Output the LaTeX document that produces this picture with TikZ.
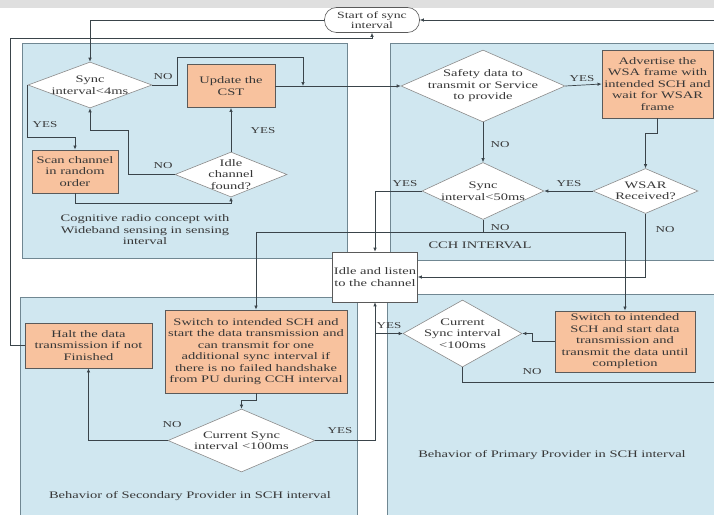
\documentclass[tikz,border=0pt]{standalone}
\usepackage{fontspec}
\setmainfont{Liberation Serif}[FakeStretch=1.45]
\usetikzlibrary{arrows.meta}
\usetikzlibrary{shapes}
\definecolor{panelblue}{RGB}{208,231,240}
\definecolor{panelline}{RGB}{112,135,146}
\definecolor{boxorange}{RGB}{248,194,158}
\definecolor{boxline}{RGB}{90,90,90}
\definecolor{linec}{RGB}{58,68,74}
\definecolor{txt}{RGB}{55,55,55}

\begin{document}
\begin{tikzpicture}[x=1pt,y=-1pt,font=\fontsize{10}{11.5}\selectfont]
\tikzstyle{panel}=[fill=panelblue,draw=panelline,line width=0.9pt]
\tikzstyle{proc}=[rectangle,draw=boxline,fill=boxorange,line width=0.9pt,align=center,inner sep=1pt,text=txt]
\tikzstyle{plain}=[rectangle,draw=boxline,fill=white,line width=0.6pt,align=center,inner sep=1pt,text=txt]
\tikzstyle{decide}=[diamond,draw=boxline!70,fill=white,line width=0.6pt,inner sep=0pt]
\tikzstyle{dtext}=[align=center,text=txt,inner sep=0pt]
\tikzstyle{startbox}=[rectangle,rounded corners=12pt,draw=boxline,fill=white,line width=0.6pt,align=center,inner sep=1pt,text=txt,font=\fontsize{9.5}{10.5}\selectfont]
\tikzstyle{arr}=[draw=linec,line width=0.7pt,-{Latex[length=4pt,width=3.5pt]}]
\tikzstyle{wire}=[draw=linec,line width=0.7pt]
\tikzstyle{lbl}=[font=\fontsize{9}{10}\selectfont,text=txt,inner sep=1pt]
\tikzstyle{ptext}=[align=center,text=txt]
\useasboundingbox (0,0) rectangle (714,514);
\fill[gray!25] (0,0) rectangle (714,8);
\draw[panel] (22,43) rectangle (347,258);
\draw[panel] (390,43) rectangle (718,260);
\draw[panel] (20,297) rectangle (357,518);
\draw[panel] (387,294) rectangle (718,518);
\node[ptext] (coglbl) at (145,230) {Cognitive radio concept with\\Wideband sensing in sensing\\interval};
\node[ptext] (cchlbl) at (480,245) {CCH INTERVAL};
\node[ptext] (seclbl) at (190,496) {Behavior of Secondary Provider in SCH interval};
\node[ptext] (prilbl) at (552,455) {Behavior of Primary Provider in SCH interval};
\node[startbox,minimum width=95pt,minimum height=25pt] (start) at (372,20) {Start of sync\\interval};
\node[decide,minimum width=124pt,minimum height=46pt,label={[dtext]center:Sync\\interval<4ms}] (sync4) at (90,85) {};
\node[proc,minimum width=88pt,minimum height=43pt] (cst) at (231,86) {Update the\\CST};
\node[decide,minimum width=112pt,minimum height=45pt,label={[dtext]center:Idle\\channel\\found?}] (found) at (231,174.5) {};
\node[proc,minimum width=86pt,minimum height=43pt] (scan) at (75,171.5) {Scan channel\\in random\\order};
\node[decide,minimum width=164pt,minimum height=72pt,label={[dtext]center:Safety data to\\transmit or Service\\to provide}] (safety) at (483,86) {};
\node[proc,minimum width=111pt,minimum height=68pt] (adv) at (657.5,84) {Advertise the\\WSA frame with\\intended SCH and\\wait for WSAR\\frame};
\node[decide,minimum width=105pt,minimum height=45pt,label={[dtext]center:WSAR\\Received?}] (wsar) at (645.5,191) {};
\node[decide,minimum width=122pt,minimum height=57pt,label={[dtext]center:Sync\\interval<50ms}] (sync50) at (483,191) {};
\node[plain,minimum width=85pt,minimum height=50pt] (idle) at (375,277) {Idle and listen\\to the channel};
\node[proc,minimum width=127pt,minimum height=45pt] (halt) at (88.5,345.5) {Halt the data\\transmission if not\\Finished};
\node[proc,minimum width=182pt,minimum height=83pt] (sswitch) at (256,351.5) {Switch to intended SCH and\\start the data transmission and\\can transmit for one\\additional sync interval if\\there is no failed handshake\\from PU during CCH interval};
\node[decide,minimum width=147pt,minimum height=63pt,label={[dtext]center:Current Sync\\interval <100ms}] (sdec) at (241.5,440.5) {};
\node[proc,minimum width=140pt,minimum height=61pt] (pswitch) at (625,341.5) {Switch to intended\\SCH and start data\\transmission and\\transmit the data until\\completion};
\node[decide,minimum width=119pt,minimum height=67pt,label={[dtext]center:Current\\Sync interval\\<100ms}] (pdec) at (462.5,333.5) {};
\coordinate (back) at (718,20);
\coordinate (pout) at (718,382);
\draw[arr] (start.west) -| (sync4.north);
\draw[arr] (sync4.west) -- ++(0,52) -| (scan.north);
\draw[arr] (scan.south) -- ++(0,10) -| (found.south);
\draw[arr] (found.north) -- (cst.south);
\draw[arr] (found.west) -| (128,130) -| (sync4.south);
\draw[arr] (sync4.east) -| (177,57) -| (303,86);
\draw[arr] (cst.east) -- (safety.west);
\draw[arr] (safety.east) -- (adv.west);
\draw[arr] (adv.south) -- ++(0,15) -| (wsar.north);
\draw[arr] (wsar.west) -- (sync50.east);
\draw[arr] (safety.south) -- (sync50.north);
\draw[arr] (sync50.west) -| (idle.north);
\draw[arr] (sync50.south) -- ++(0,13) -| (sswitch.north);
\draw[arr] (sync50.south) -- ++(0,13) -| (pswitch.north);
\draw[arr] (wsar.south) |- (idle.east);
\draw[arr] (sswitch.south) -- ++(0,7) -| (sdec.north);
\draw[arr] (sdec.west) -| (halt.south);
\draw[arr] (sdec.east) -| (idle.south);
\draw[arr] (idle.south |- pdec.west) -- (pdec.west);
\draw[arr] (pswitch.west) -- ++(-22,0) |- (pdec.east);
\draw[wire] (pdec.south) |- (pout);
\draw[arr] (back) -- (start.east);
\draw[arr] (halt.west) -| (10,38) -| (start.south);
\node[lbl] at (45,125) {YES};
\node[lbl] at (163,77) {NO};
\node[lbl] at (263,131) {YES};
\node[lbl] at (163,166) {NO};
\node[lbl] at (582,79) {YES};
\node[lbl] at (500,145) {NO};
\node[lbl] at (569,184) {YES};
\node[lbl] at (405,184) {YES};
\node[lbl] at (500,228) {NO};
\node[lbl] at (665,230) {NO};
\node[lbl] at (172,425) {NO};
\node[lbl] at (340,431) {YES};
\node[lbl] at (389,326) {YES};
\node[lbl] at (532,372) {NO};
\end{tikzpicture}
\end{document}
